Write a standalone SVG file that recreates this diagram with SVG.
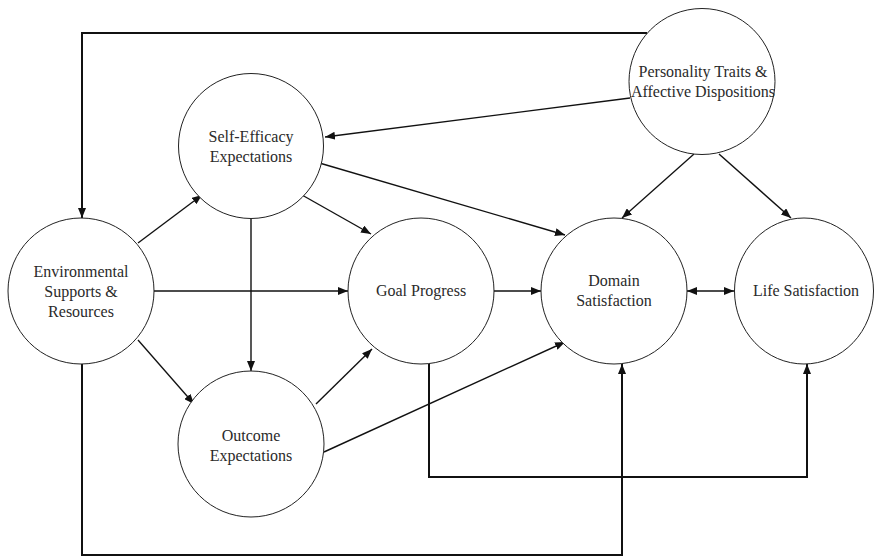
<svg xmlns="http://www.w3.org/2000/svg" width="874" height="557" viewBox="0 0 874 557">
<defs>
<marker id="ah" markerUnits="userSpaceOnUse" markerWidth="10" markerHeight="8" refX="10" refY="4" orient="auto-start-reverse" viewBox="0 0 10 8">
<path d="M0,0 L10,4 L0,8 z" fill="#111"/>
</marker>
<style>
.node{fill:#fff;stroke:#222;stroke-width:1}
.lbl{font-family:"Liberation Serif","Times New Roman",serif;font-size:16px;fill:#2a2a2a;text-anchor:middle}
.c{fill:none;stroke:#111;stroke-width:1.4;marker-end:url(#ah)}
.b{fill:none;stroke:#111;stroke-width:2;marker-end:url(#ah)}
</style>
</defs>
<rect width="874" height="557" fill="#fff"/>
<g id="connectors">
<polyline class="b" points="647,33 82,33 82,218"/>
<polyline class="b" points="82,364 82,555 622,555 622,364"/>
<polyline class="b" points="429,364 429,477 807,477 807,364"/>
<line class="c" x1="630" y1="98" x2="325" y2="137"/>
<line class="c" x1="316" y1="162" x2="565" y2="235"/>
<line class="c" x1="302" y1="195" x2="371" y2="234"/>
<line class="c" x1="138" y1="243" x2="202" y2="195"/>
<line class="c" x1="251" y1="219" x2="251" y2="371"/>
<line class="c" x1="154" y1="291" x2="348" y2="291"/>
<line class="c" x1="138" y1="340" x2="194" y2="404"/>
<line class="c" x1="316" y1="404" x2="372" y2="349"/>
<line class="c" x1="324" y1="452" x2="565" y2="342"/>
<line class="c" x1="493" y1="291" x2="541" y2="291"/>
<line class="c" x1="687" y1="291" x2="734" y2="291" marker-start="url(#ah)"/>
<line class="c" x1="694" y1="154" x2="622" y2="218"/>
<line class="c" x1="719" y1="154" x2="791" y2="218"/>
</g>
<g id="personality">
<circle class="node" cx="702" cy="81.5" r="73"/>
<text class="lbl" x="703" y="77">Personality Traits &amp;</text>
<text class="lbl" x="703" y="97">Affective Dispositions</text>
</g>
<g id="self-efficacy">
<circle class="node" cx="251" cy="146" r="72.5"/>
<text class="lbl" x="251" y="142">Self-Efficacy</text>
<text class="lbl" x="251" y="162">Expectations</text>
</g>
<g id="environmental">
<circle class="node" cx="81" cy="291" r="73"/>
<text class="lbl" x="81" y="277">Environmental</text>
<text class="lbl" x="81" y="297">Supports &amp;</text>
<text class="lbl" x="81" y="317">Resources</text>
</g>
<g id="goal-progress">
<circle class="node" cx="421" cy="291" r="73"/>
<text class="lbl" x="421" y="296">Goal Progress</text>
</g>
<g id="domain-satisfaction">
<circle class="node" cx="614" cy="291" r="73"/>
<text class="lbl" x="614" y="286">Domain</text>
<text class="lbl" x="614" y="306">Satisfaction</text>
</g>
<g id="life-satisfaction">
<ellipse class="node" cx="804" cy="291" rx="69.5" ry="73"/>
<text class="lbl" x="806" y="296">Life Satisfaction</text>
</g>
<g id="outcome">
<circle class="node" cx="251" cy="444" r="73"/>
<text class="lbl" x="251" y="441">Outcome</text>
<text class="lbl" x="251" y="461">Expectations</text>
</g>
</svg>
